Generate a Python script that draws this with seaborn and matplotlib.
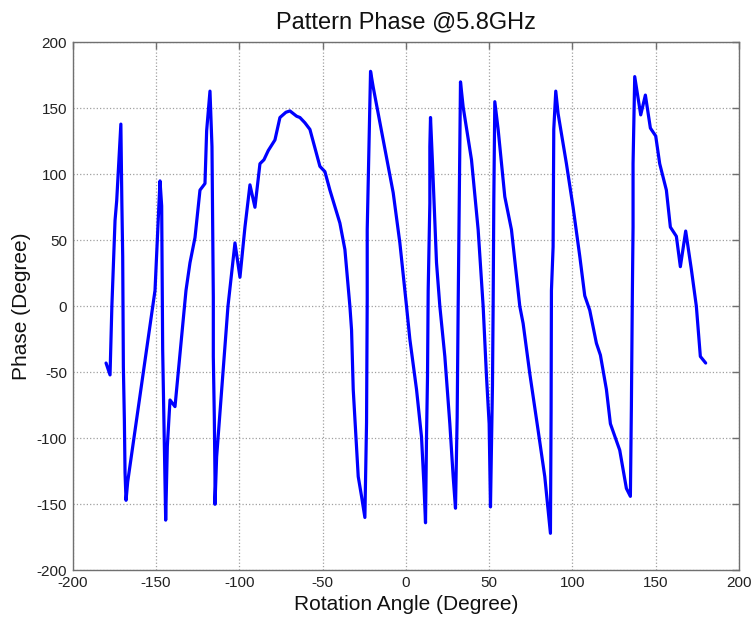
import matplotlib
matplotlib.use("Agg")
import matplotlib.pyplot as plt
import seaborn as sns
import pandas as pd

angle = [-180, -177.6, -176.5, -174.6, -173.6, -171.1, -170.5, -170.0, -169.6, -169.0,
         -168.6, -168.0, -167.0, -150.6, -147.6, -146.6, -146.0, -144.2, -143.2, -141.6,
         -138.6, -132.0, -129.6, -126.6, -123.6, -120.6, -119.6, -117.6, -116.4, -115.6,
         -115.6, -115.0, -114.6, -114.6, -113.6, -106.8, -102.6, -99.6, -96.6, -93.6,
         -90.6, -87.6, -85.2, -82.6, -78.6, -75.6, -72.0, -69.6, -65.6, -63.6,
         -60.6, -57.6, -51.6, -48.6, -45.6, -39.6, -36.6, -33.6, -32.6, -31.6,
         -30.0, -28.6, -26.6, -24.6, -23.6, -23.2, -23.2, -21.2, -19.6, -13.6,
         -7.6, -3.6, 0.4, 2.4, 6.4, 9.4, 10.8, 11.8, 12.4, 13.0,
         13.4, 14.4, 14.4, 14.8, 16.0, 18.4, 20.4, 23.4, 26.4, 28.4,
         29.8, 30.8, 31.4, 32.2, 32.8, 34.4, 39.4, 43.4, 46.4, 48.4,
         50.0, 50.8, 52.0, 52.4, 52.8, 53.4, 55.4, 59.4, 63.4, 68.4,
         70.4, 74.4, 79.4, 83.4, 86.8, 87.2, 87.4, 88.4, 88.8, 90.0,
         91.4, 96.4, 100.4, 104.4, 107.4, 110.4, 114.4, 116.8, 120.4, 122.8,
         128.4, 132.4, 134.8, 135.4, 136.0, 136.4, 136.4, 137.4, 141.0, 143.8,
         146.8, 150.0, 152.4, 156.4, 158.8, 162.4, 164.8, 168.0, 171.4, 174.4,
         175.4, 176.8, 180.0]
phase = [-43, -52, 0, 65, 80, 138, 78, 38, -46, -86,
         -126, -147, -133, 12, 95, 76, -33, -162, -106, -71,
         -76, 12, 33, 52, 88, 93, 133, 163, 121, 7,
         -38, -84, -129, -150, -114, 0, 48, 22, 60, 92,
         75, 108, 111, 118, 126, 143, 147, 148, 144, 143,
         139, 134, 106, 102, 88, 63, 43, 0, -18, -63,
         -99, -129, -144, -160, -88, 5, 58, 178, 166, 126,
         86, 48, 0, -25, -63, -99, -134, -164, -99, -53,
         12, 78, 121, 143, 108, 33, 0, -38, -89, -129,
         -153, -84, 0, 100, 170, 151, 111, 58, 0, -53,
         -89, -152, -60, 0, 80, 155, 134, 83, 58, 0,
         -13, -51, -94, -129, -172, -80, 12, 45, 134, 163,
         146, 108, 75, 38, 8, -3, -28, -37, -63, -89,
         -109, -138, -144, -76, 12, 60, 108, 174, 145, 160,
         135, 129, 108, 88, 60, 53, 30, 57, 28, 0,
         -16, -38, -43]

df = pd.DataFrame({"angle": angle, "phase": phase})

sns.set_style("white")
plt.rcParams['font.family'] = ['Liberation Sans', 'DejaVu Sans']
plt.rcParams['axes.unicode_minus'] = False

fig = plt.figure(figsize=(7.56, 6.2), dpi=100)
ax = fig.add_axes([0.0962, 0.0802, 0.8813, 0.8516])

sns.lineplot(data=df, x="angle", y="phase", sort=False, estimator=None,
             color="#0000ff", linewidth=2.3, ax=ax)

ax.set_xlim(-200, 200)
ax.set_ylim(-200, 200)
ax.set_xticks(range(-200, 201, 50))
ax.set_yticks(range(-200, 201, 50))
ax.grid(True, linestyle=':', color='#a0a0a0', linewidth=0.9)
for s in ax.spines.values():
    s.set_color('#707070')
    s.set_linewidth(1.0)
    s.set_visible(True)
ax.tick_params(direction='in', length=5, width=1, color='#707070',
               top=True, right=True, labelsize=11, labelcolor='#222222', pad=4)
ax.set_title("Pattern Phase @5.8GHz", fontsize=17, color='#111111', pad=10)
ax.set_xlabel("Rotation Angle (Degree)", fontsize=15, color='#111111', labelpad=4)
ax.set_ylabel("Phase (Degree)", fontsize=15, color='#111111', labelpad=4)

fig.savefig("out.png", dpi=100)
